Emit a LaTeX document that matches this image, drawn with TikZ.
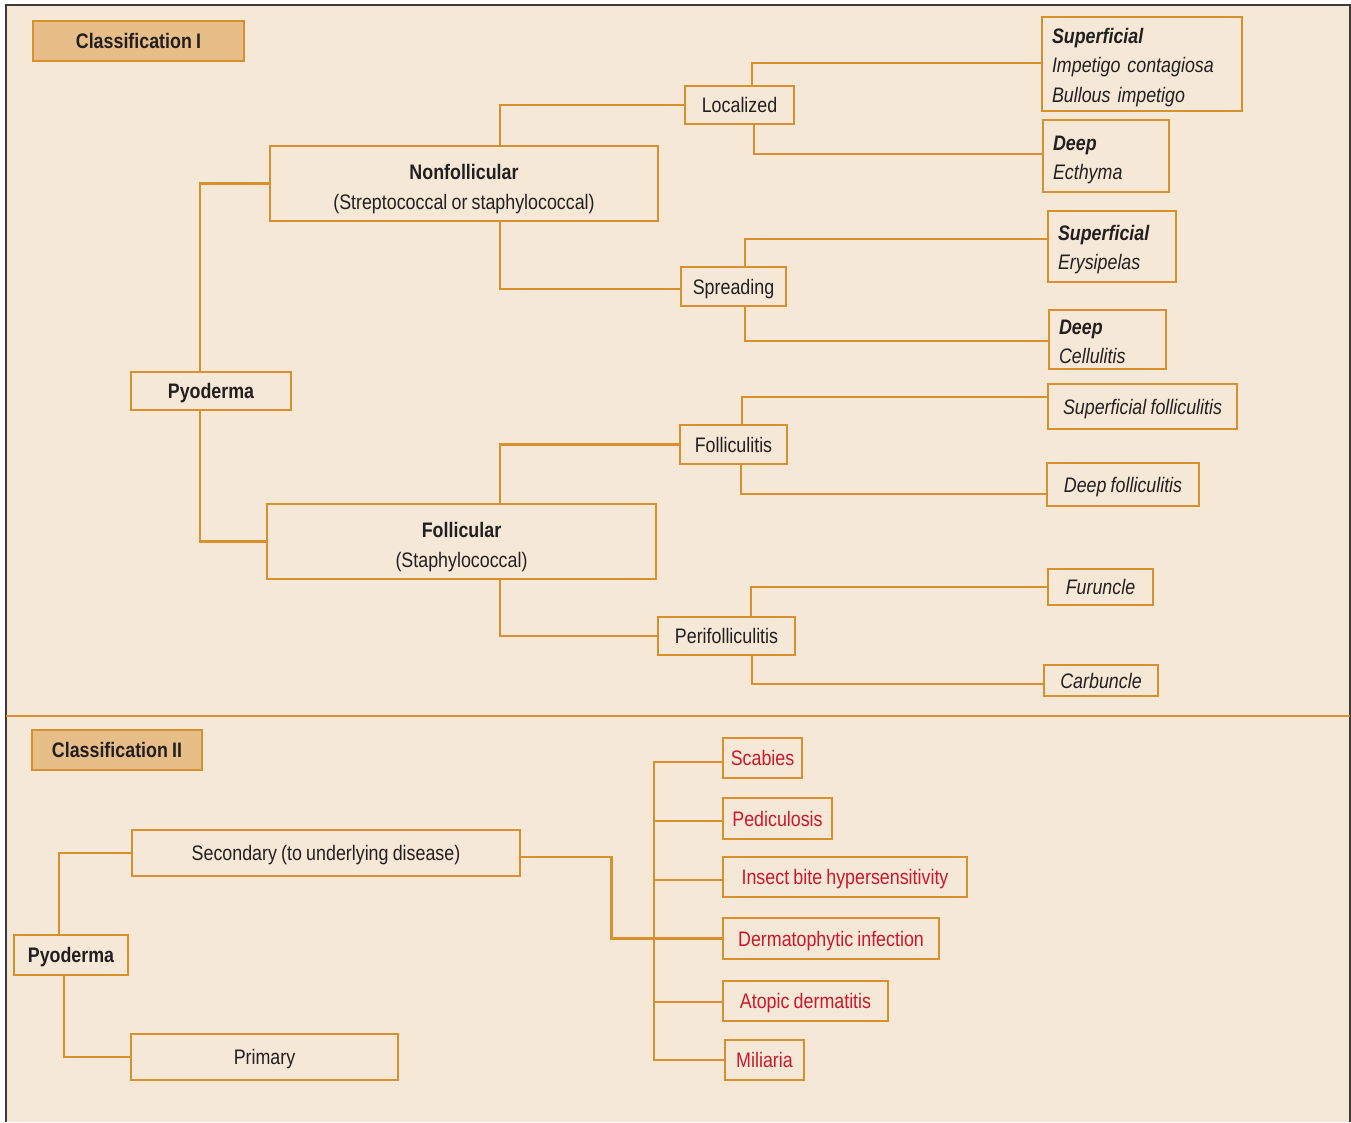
\documentclass[tikz,border=0pt]{standalone}
\usepackage{fontspec}
\setmainfont{Liberation Sans}[FakeStretch=0.85]
\definecolor{bgc}{HTML}{F5E8D6}
\definecolor{orc}{HTML}{D8902F}
\definecolor{hdrc}{HTML}{E7BD88}
\definecolor{redc}{HTML}{C8192E}
\definecolor{txc}{HTML}{231F20}
\definecolor{frc}{HTML}{3A3A3A}
\newcommand{\tsp}{\spaceskip=4.2pt\relax}
\begin{document}
\begin{tikzpicture}[x=1pt,y=-1pt,
  box/.style={draw=orc, line width=2.6pt, fill=bgc, inner sep=0pt, align=center, text=txc,
     text depth=-3pt, font=\fontsize{21}{30}\selectfont\tsp},
  twoline/.style={box},
  lbox/.style={box, align=left, inner xsep=10pt},
  hdr/.style={box, fill=hdrc, font=\fontsize{21}{30}\selectfont\bfseries\tsp},
  rbox/.style={box, text=redc},
  conn/.style={draw=orc, line width=2.6pt},
  it/.style={font=\fontsize{21}{29.5}\selectfont\itshape\tsp}
]
\fill[white] (0,0) rectangle (1351,1122);
\useasboundingbox (0,0) rectangle (1351,1122);
\fill[bgc] (6,5) rectangle (1350,1122);
\draw[frc, line width=1.8pt] (6,1122) -- (6,5) -- (1350,5) -- (1350,1122);
\draw[orc, line width=1.2pt] (6,716) -- (1350,716);

% Classification I
\node[hdr, minimum width=211, minimum height=40] (c1) at (138.5,41) {Classification I};
\node[box, font=\fontsize{21}{30}\selectfont\bfseries, minimum width=160, minimum height=38] (pyo1) at (211,391) {Pyoderma};
\node[twoline, minimum width=388, minimum height=75] (nonf) at (464,183.5) {\rule{0pt}{22pt}\textbf{Nonfollicular}\\(Streptococcal or staphylococcal)};
\node[twoline, minimum width=389, minimum height=75] (foll) at (461.5,541.5) {\rule{0pt}{22pt}\textbf{Follicular}\\(Staphylococcal)};
\node[box, minimum width=109, minimum height=38] (loc) at (739.5,105) {Localized};
\node[box, minimum width=105, minimum height=39] (spr) at (733.5,286.5) {Spreading};
\node[box, minimum width=107, minimum height=39] (fol) at (733.5,444.5) {Folliculitis};
\node[box, minimum width=137, minimum height=38] (peri) at (726.5,636) {Perifolliculitis};

\node[lbox, it, text width=180, text depth=57pt, minimum height=94] (sup1) at (1142,64) {\textbf{Superficial}\\Impetigo contagiosa\\Bullous impetigo};
\node[lbox, it, text width=106, text depth=26pt, minimum height=72] (deep1) at (1106,156) {\textbf{Deep}\\Ecthyma};
\node[lbox, it, text width=108, text depth=28pt, minimum height=71] (sup2) at (1112,246.5) {\textbf{Superficial}\\Erysipelas};
\node[lbox, it, text width=97, text depth=24.5pt, minimum height=59] (deep2) at (1107.5,339.5) {\textbf{Deep}\\Cellulitis};
\node[box, it, minimum width=189, minimum height=45] (sup3) at (1142.5,406.5) {Superficial folliculitis};
\node[box, it, minimum width=152, minimum height=43] (deep3) at (1123,484.5) {Deep folliculitis};
\node[box, it, minimum width=105, minimum height=36] (fur) at (1100.5,587) {Furuncle};
\node[box, it, minimum width=114, minimum height=31] (carb) at (1101,680.5) {Carbuncle};

\draw[conn] ([xshift=-11pt]pyo1.north) |- (nonf.west);
\draw[conn] ([xshift=-11pt]pyo1.south) |- (foll.west);
\draw[conn] ([xshift=36pt]nonf.north) |- (loc.west);
\draw[conn] ([xshift=36pt]nonf.south) |- ([yshift=-2.5pt]spr.west);
\draw[conn] ([xshift=12.5pt]loc.north) |- ([yshift=1pt]sup1.west);
\draw[conn] ([xshift=14.5pt]loc.south) |- ([yshift=2pt]deep1.west);
\draw[conn] ([xshift=11.5pt]spr.north) |- ([yshift=7.5pt]sup2.west);
\draw[conn] ([xshift=11.5pt]spr.south) |- ([yshift=-1.5pt]deep2.west);
\draw[conn] ([xshift=38.5pt]foll.north) |- (fol.west);
\draw[conn] ([xshift=38.5pt]foll.south) |- (peri.west);
\draw[conn] ([xshift=8.5pt]fol.north) |- ([yshift=9.5pt]sup3.west);
\draw[conn] ([xshift=7.5pt]fol.south) |- ([yshift=-9.5pt]deep3.west);
\draw[conn] ([xshift=24.5pt]peri.north) |- (fur.west);
\draw[conn] ([xshift=25.5pt]peri.south) |- ([yshift=-3.5pt]carb.west);

% Classification II
\node[hdr, minimum width=170, minimum height=40] (c2) at (117,750) {Classification II};
\node[box, font=\fontsize{21}{30}\selectfont\bfseries, minimum width=114, minimum height=40] (pyo2) at (71,955) {Pyoderma};
\node[box, minimum width=388, minimum height=46] (sec) at (326,853) {Secondary (to underlying disease)};
\node[box, minimum width=267, minimum height=46] (prim) at (264.5,1057) {Primary};
\node[rbox, minimum width=79, minimum height=40] (scab) at (762.5,758) {Scabies};
\node[rbox, minimum width=109, minimum height=41] (ped) at (777.5,818.5) {Pediculosis};
\node[rbox, minimum width=244, minimum height=40] (ins) at (845,877) {Insect bite hypersensitivity};
\node[rbox, minimum width=216, minimum height=41] (derm) at (831,938.5) {Dermatophytic infection};
\node[rbox, minimum width=165, minimum height=40] (atop) at (805.5,1001) {Atopic dermatitis};
\node[rbox, minimum width=79, minimum height=40] (mil) at (764.5,1060) {Miliaria};

\coordinate (bus) at (654,0);
\draw[conn] ([xshift=-12pt]pyo2.north) |- (sec.west);
\draw[conn] ([xshift=-7pt]pyo2.south) |- (prim.west);
\draw[conn] ([yshift=-4pt]sec.east) -- ++(90,0) |- (derm.west);
\draw[conn] ([yshift=-4pt]scab.west) -- ([yshift=-4pt]scab.west -| bus) -- (mil.west -| bus) -- (mil.west);
\draw[conn] ([yshift=-2.5pt]ped.west) -- ([yshift=-2.5pt]ped.west -| bus);
\draw[conn] ([yshift=-3pt]ins.west) -- ([yshift=-3pt]ins.west -| bus);
\draw[conn] ([yshift=-1pt]atop.west) -- ([yshift=-1pt]atop.west -| bus);
\end{tikzpicture}
\end{document}
